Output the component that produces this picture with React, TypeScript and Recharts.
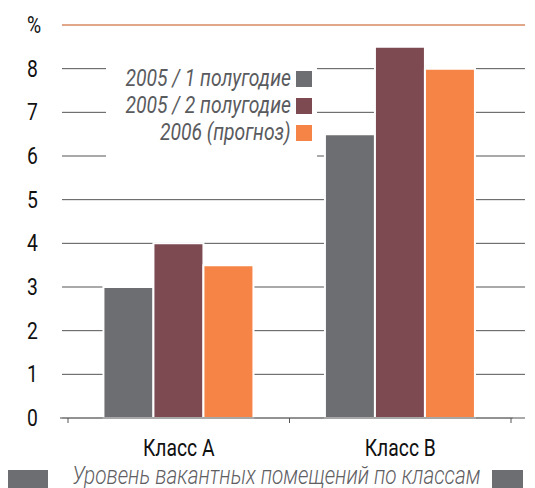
import React from 'react';
import { BarChart, Bar, XAxis, YAxis, CartesianGrid, ReferenceLine, Legend } from 'recharts';

const categories = ['Класс A', 'Класс B'];
const seriesNames = ['2005 / 1 полугодие', '2005 / 2 полугодие', '2006 (прогноз)'];
const half1_2005 = [3, 6.5];
const half2_2005 = [4, 8.5];
const forecast2006 = [3.5, 8];
const yTicks = [0, 1, 2, 3, 4, 5, 6, 7, 8, 9];
const caption = 'Уровень вакантных помещений по классам';

const colors = ['#6d6e71', '#7d4a52', '#f58446'];
const FONT = "Roboto, 'Liberation Sans', sans-serif";
const SX = 0.84;
const LEG_SX = 0.84;
const CAP_SX = 0.83;

const data = categories.map((c, i) => ({
  cat: c,
  s1: half1_2005[i],
  s2: half2_2005[i],
  s3: forecast2006[i],
}));

const YTick = (props: any) => {
  const { y, payload } = props;
  const label = payload.value === 9 ? '%' : String(payload.value);
  return (
    <text
      transform={`translate(27, ${y + 8}) scale(${SX}, 1)`}
      textAnchor="start"
      fontFamily={FONT}
      fontSize={23}
      fill="#111"
    >
      {label}
    </text>
  );
};

const XTick = (props: any) => {
  const { x, y, payload, index } = props;
  const off = payload && typeof payload.offset === 'number' && payload.offset > 0 ? payload.offset : 110;
  const left = x - off - (index === 0 ? 8 : 0);
  const right = x + off + (index === categories.length - 1 ? 2 : 0);
  return (
    <g>
      <line x1={left} x2={right} y1={y} y2={y} stroke="#8a8a8a" strokeWidth={1.5} />
      <line x1={x - off} x2={x - off} y1={y} y2={y + 5} stroke="#555" strokeWidth={1} />
      <line x1={x + off} x2={x + off} y1={y} y2={y + 5} stroke="#555" strokeWidth={1} />
      <text
        transform={`translate(${x}, ${y + 38}) scale(${SX}, 1)`}
        textAnchor="middle"
        fontFamily={FONT}
        fontSize={23}
        fill="#111"
      >
        {payload.value}
      </text>
    </g>
  );
};

const LegendContent = () => (
  <div style={{ background: '#fff', width: 211, paddingTop: 8, paddingBottom: 13, boxSizing: 'border-box' }}>
    {seriesNames.map((n, i) => (
      <div
        key={n}
        style={{
          display: 'flex',
          justifyContent: 'flex-end',
          alignItems: 'center',
          height: 27,
          paddingRight: 5,
        }}
      >
        <span
          style={{
            display: 'inline-block',
            fontFamily: FONT,
            fontStyle: 'italic',
            fontWeight: 400,
            fontSize: 23,
            color: '#5a5b5e',
            lineHeight: '27px',
            whiteSpace: 'nowrap',
            transform: `scaleX(${LEG_SX})`,
            transformOrigin: '100% 50%',
            flexShrink: 0,
          }}
        >
          {n}
        </span>
        <span
          style={{
            display: 'inline-block',
            width: 16,
            height: 16,
            background: colors[i],
            marginLeft: 5,
            flexShrink: 0,
          }}
        />
      </div>
    ))}
  </div>
);

export default function App() {
  return (
    <div
      style={{
        position: 'absolute',
        left: 0,
        top: 0,
        width: 535,
        height: 488,
        background: '#fff',
        overflow: 'hidden',
      }}
    >
      <BarChart
        width={535}
        height={460}
        data={data}
        margin={{ top: 25, right: 10, bottom: 2, left: 0 }}
        barCategoryGap="16%"
        barGap={0}
      >
        <CartesianGrid horizontal vertical={false} stroke="#555" strokeWidth={1} />
        <XAxis
          dataKey="cat"
          height={40}
          padding={{ left: 6, right: 14 }}
          axisLine={false}
          tickLine={false}
          tickSize={0}
          tickMargin={0}
          interval={0}
          tick={<XTick />}
        />
        <YAxis
          type="number"
          domain={[0, 9]}
          ticks={yTicks}
          width={62}
          axisLine={false}
          tickLine={false}
          tick={<YTick />}
          interval={0}
        />
        <ReferenceLine y={9} stroke="#f4a47c" strokeWidth={1.5} />
        <Legend
          layout="vertical"
          align="center"
          verticalAlign="middle"
          wrapperStyle={{ left: 106, top: 57, width: 211 }}
          content={<LegendContent />}
        />
        <Bar dataKey="s1" name={seriesNames[0]} fill={colors[0]} stroke="#fff" strokeWidth={2} isAnimationActive={false} />
        <Bar dataKey="s2" name={seriesNames[1]} fill={colors[1]} stroke="#fff" strokeWidth={2} isAnimationActive={false} />
        <Bar dataKey="s3" name={seriesNames[2]} fill={colors[2]} stroke="#fff" strokeWidth={2} isAnimationActive={false} />
      </BarChart>
      <div style={{ position: 'absolute', left: 8, top: 470, width: 40, height: 20, background: '#6d6e71' }} />
      <div style={{ position: 'absolute', left: 492, top: 470, width: 31, height: 20, background: '#6d6e71' }} />
      <div
        style={{
          position: 'absolute',
          left: 0,
          width: 553,
          top: 461,
          textAlign: 'center',
          fontFamily: FONT,
          fontStyle: 'italic',
          fontWeight: 300,
          fontSize: 25,
          lineHeight: '30px',
          color: '#5f6063',
          whiteSpace: 'nowrap',
          transform: `scaleX(${CAP_SX})`,
          transformOrigin: '276px 0',
        }}
      >
        {caption}
      </div>
    </div>
  );
}
